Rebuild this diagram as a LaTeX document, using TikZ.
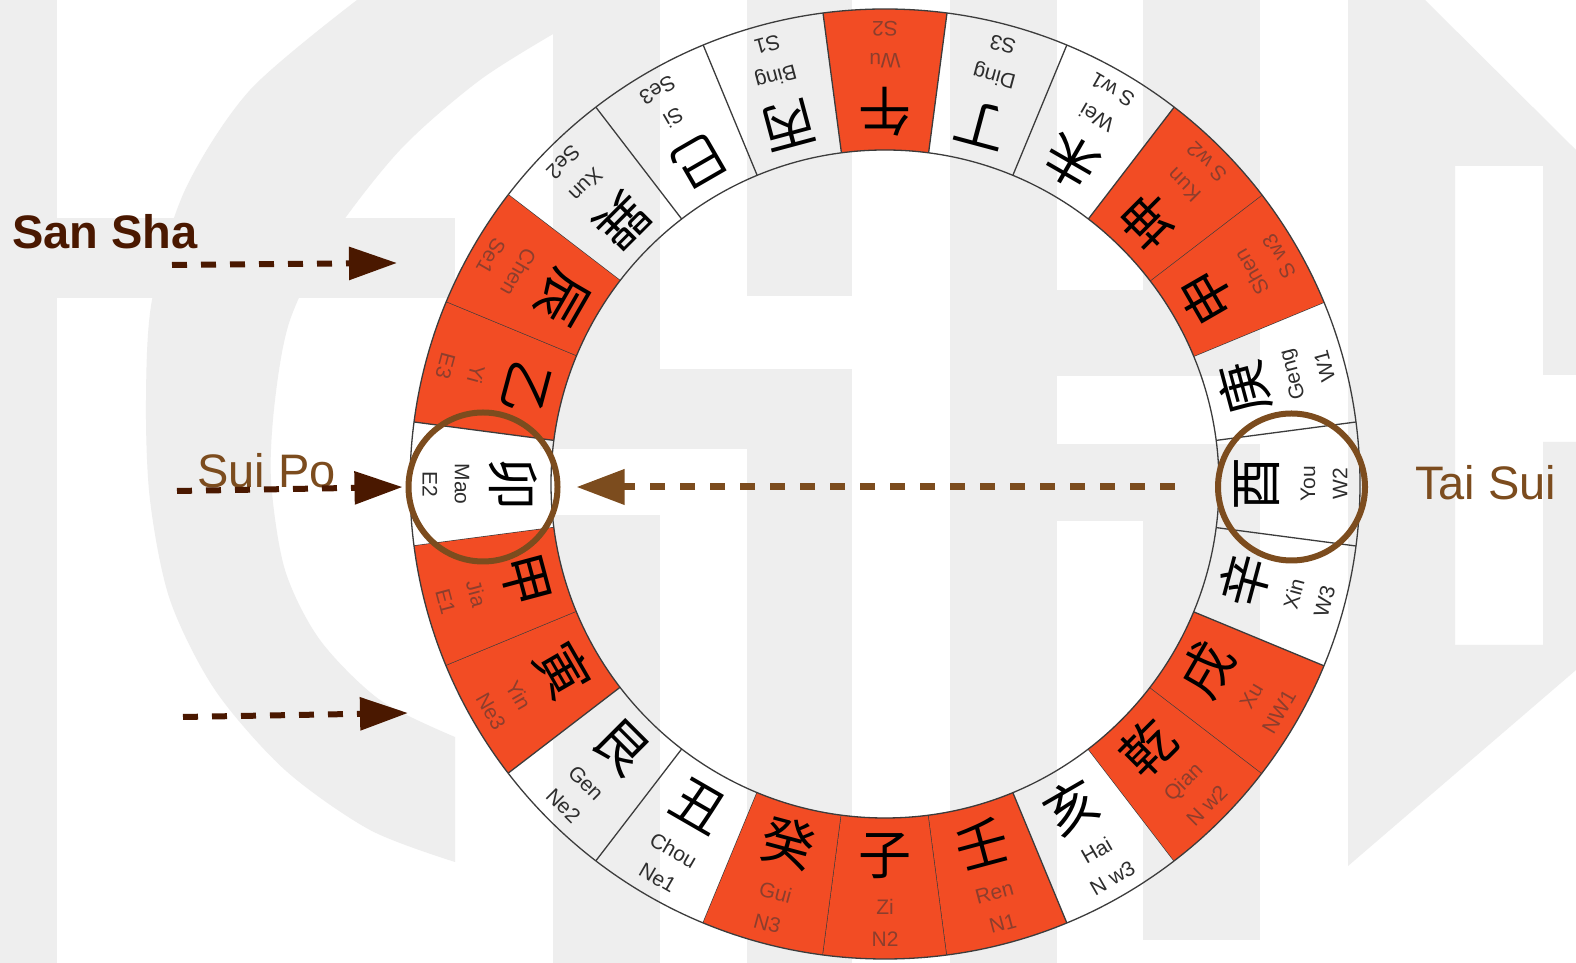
\documentclass[tikz,border=0pt]{standalone}
\usepackage{fontspec}
\setmainfont{Liberation Sans}
\newfontfamily\cjkfont{Noto Sans CJK SC}
\usetikzlibrary{arrows.meta}
\definecolor{wm}{RGB}{238,238,238}
\definecolor{mred}{RGB}{242,76,36}
\definecolor{ringline}{RGB}{60,60,60}
\definecolor{tsbrown}{RGB}{124,76,30}
\definecolor{darkbrown}{RGB}{74,24,0}
\definecolor{redtxt}{RGB}{140,62,45}
\definecolor{whtxt}{RGB}{45,45,45}
\tikzset{
  mcjk/.style={font=\cjkfont\fontsize{53}{58}\selectfont, text=black, inner sep=0pt},
  mpin/.style={font=\fontsize{21}{24}\selectfont, inner sep=0pt},
  mcode/.style={font=\fontsize{21}{24}\selectfont, inner sep=0pt},
  ringln/.style={draw=ringline, line width=1.3pt},
  bcirc/.style={circle, draw=tsbrown, line width=6pt, inner sep=0pt},
  darrow/.style={draw=darkbrown, line width=6pt, dash pattern=on 15pt off 14pt,
    -{Triangle[length=48pt,width=32pt]}},
  barrow/.style={draw=tsbrown, line width=7pt, dash pattern=on 15pt off 15pt,
    -{Triangle[length=48pt,width=34pt]}},
  biglabel/.style={font=\fontsize{47}{52}\selectfont, inner sep=0pt, anchor=base west},
}
\begin{document}
\begin{tikzpicture}[x=1pt,y=1pt]
\useasboundingbox (0,0) rectangle (1576,963);
\fill[white] (0,0) rectangle (1576,963);
% ---- watermark (screen coordinates, y downwards)
\begin{scope}[shift={(0,963)}, yscale=-1]
  \fill[wm] (0,0) rectangle (57,963);
  \fill[wm] (57,218) rectangle (455,298);
  \fill[wm] plot[smooth, tension=0.5] coordinates {(357,0) (250,90) (185,190) (152,300) (146,400) (150,500) (170,600) (215,690) (285,770) (370,830) (455,862)}
     -- (455,737)
     -- plot[smooth, tension=0.5] coordinates {(455,737) (380,700) (320,640) (285,570) (271,480) (275,400) (290,320) (330,240) (400,150) (480,80) (560,30)}
     -- (560,0) -- cycle;
  \fill[wm] (553,0) rectangle (660,369);
  \fill[wm] (540,369) rectangle (852,449);
  \fill[wm] (747,0) rectangle (852,296);
  \fill[wm] (747,449) rectangle (852,963);
  \fill[wm] (553,515) rectangle (660,963);
  \fill[wm] (950,0) rectangle (1057,963);
  \fill[wm] (1143,0) rectangle (1260,290);
  \fill[wm] (1057,290) rectangle (1260,376);
  \fill[wm] (1057,444) rectangle (1260,521);
  \fill[wm] (1143,521) rectangle (1260,940);
  \fill[wm] (1348,0) -- (1425,0) -- (1576,150) -- (1576,375) -- (1543,375) -- (1543,166)
     -- (1455,166) -- (1455,645) -- (1543,645) -- (1543,442) -- (1576,442) -- (1576,670)
     -- (1348,866) -- cycle;
\end{scope}
% ---- the ring of 24 mountains
\begin{scope}[shift={(885,479)}]
  \foreach \a/\ch/\py/\cd/\f/\tc [count=\i] in {
    90/午/Wu/S2/mred/redtxt,
    105/丙/Bing/S1/none/whtxt,
    120/巳/Si/Se3/none/whtxt,
    135/巽/Xun/Se2/none/whtxt,
    150/辰/Chen/Se1/mred/redtxt,
    165/乙/Yi/E3/mred/redtxt,
    180/卯/Mao/E2/none/whtxt,
    195/甲/Jia/E1/mred/redtxt,
    210/寅/Yin/Ne3/mred/redtxt,
    225/艮/Gen/Ne2/none/whtxt,
    240/丑/Chou/Ne1/none/whtxt,
    255/癸/Gui/N3/mred/redtxt,
    270/子/Zi/N2/mred/redtxt,
    285/壬/Ren/N1/mred/redtxt,
    300/亥/Hai/N w3/none/whtxt,
    315/乾/Qian/N w2/mred/redtxt,
    330/戌/Xu/NW1/mred/redtxt,
    345/辛/Xin/W3/none/whtxt,
    360/酉/You/W2/none/whtxt,
    15/庚/Geng/W1/none/whtxt,
    30/申/Shen/S w3/mred/redtxt,
    45/坤/Kun/S w2/mred/redtxt,
    60/未/Wei/S w1/none/whtxt,
    75/丁/Ding/S3/none/whtxt}{
    \path[fill=\f] (\a-7.5:334pt) arc[start angle=\a-7.5, end angle=\a+7.5, radius=334pt]
      -- (\a+7.5:475pt) arc[start angle=\a+7.5, end angle=\a-7.5, radius=475pt] -- cycle;
    \draw[ringln] (\a+7.5:334pt) -- (\a+7.5:475pt);
    \node[mcjk, rotate=\a+90] (c\i) at (\a:372pt) {\ch};
    \node[mpin, text=\tc, rotate=\a+90] (p\i) at (\a:423pt) {\py};
    \node[mcode, text=\tc, rotate=\a+90] (k\i) at (\a:455pt) {\cd};
  }
  \draw[ringln] (0,0) circle[radius=334pt];
  \draw[ringln] (0,0) circle[radius=475pt];
\end{scope}
% ---- highlight circles
\node[bcirc, minimum size=149pt] (lc) at (483,476) {};
\node[bcirc, minimum size=147pt] (rc) at (1291.5,476) {};
% ---- labels
\node[biglabel, text=darkbrown, font=\bfseries\fontsize{47}{52}\selectfont] (sansha) at (12,714) {San Sha};
\node[biglabel, text=tsbrown] (suipo) at (197,475) {Sui Po};
\node[biglabel, text=tsbrown] (taisui) at (1415,463) {Tai Sui};
% ---- arrows
\coordinate (ss1a) at (172,698);
\coordinate (ss1b) at (397,700);
\coordinate (ss2a) at (183,246);
\coordinate (ss2b) at (408,250);
\coordinate (spa) at (177,472);
\draw[darrow] (ss1a) -- (ss1b);
\draw[darrow] (ss2a) -- (ss2b);
\draw[darrow, shorten >=3pt] (spa) -- (lc.west);
\draw[barrow, shorten <=40pt, shorten >=16pt] (rc.west) -- (lc.east);
\end{tikzpicture}
\end{document}
